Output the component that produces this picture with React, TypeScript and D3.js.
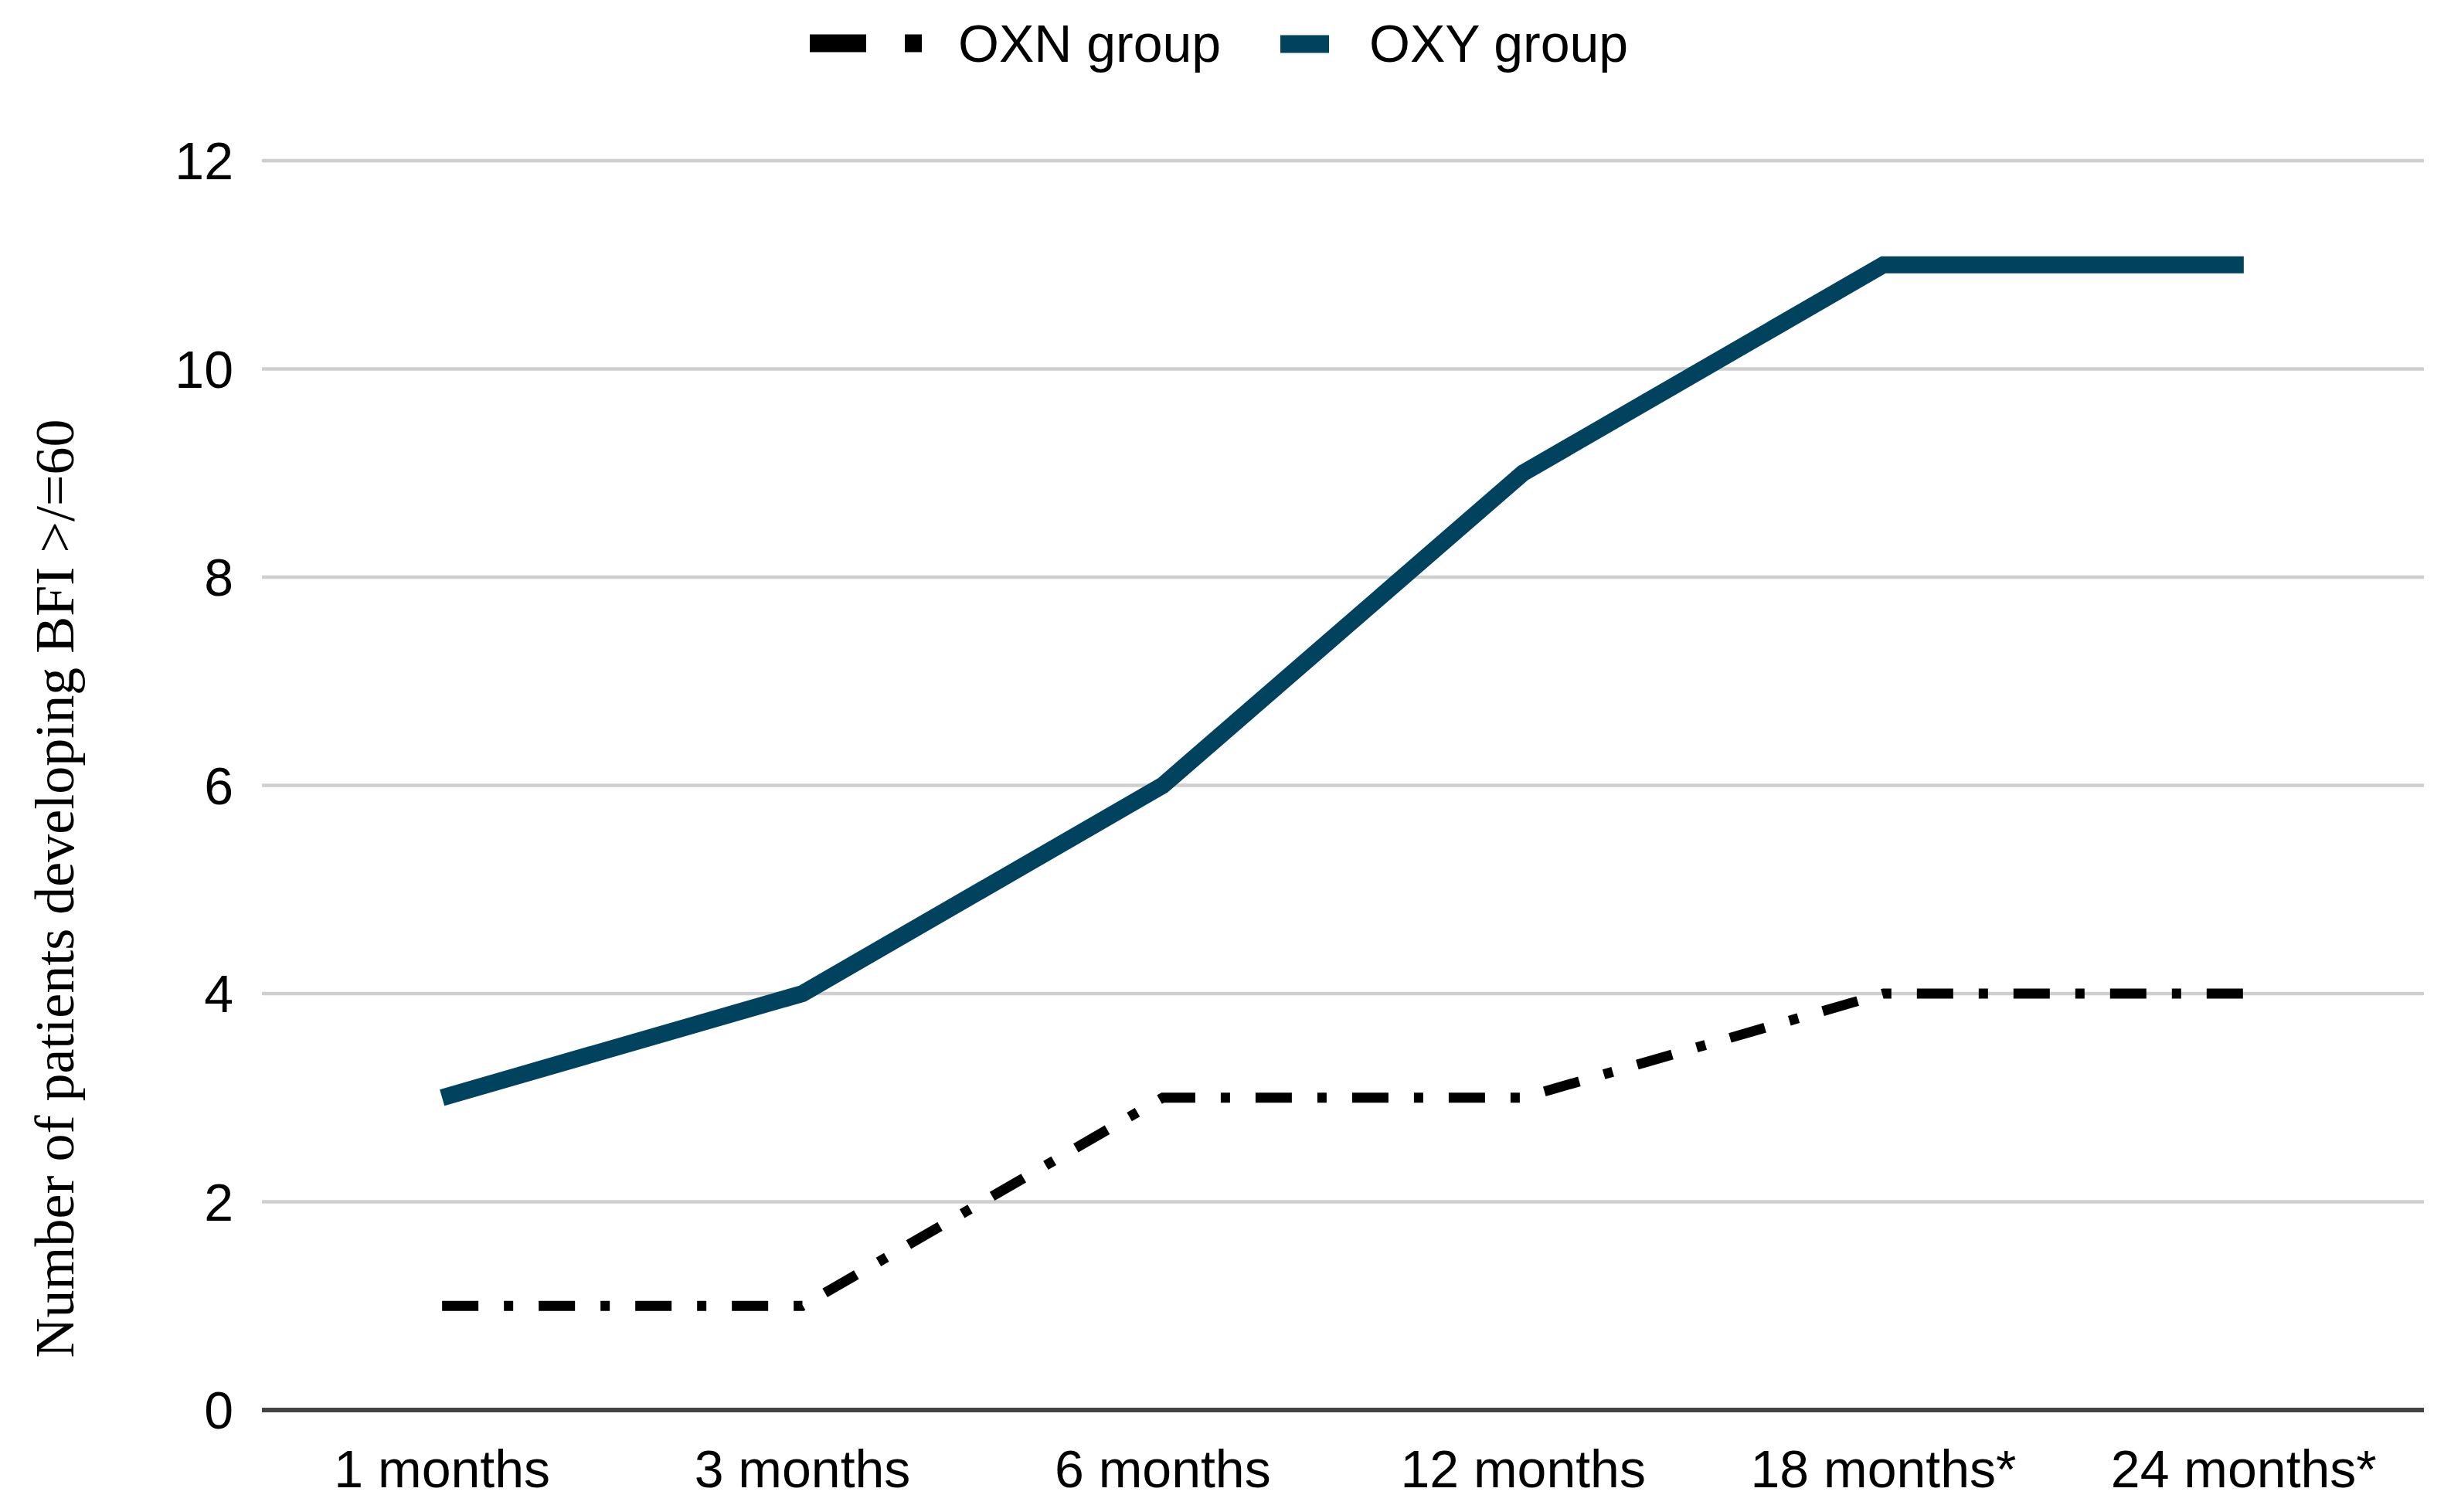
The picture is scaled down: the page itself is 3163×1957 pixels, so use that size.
import React from "react";
import * as d3 from "d3";

const categories = ["1 months", "3 months", "6 months", "12 months", "18 months*", "24 months*"];
const oxnValues = [1, 1, 3, 3, 4, 4];
const oxyValues = [3, 4, 6, 9, 11, 11];
const yTicks = [0, 2, 4, 6, 8, 10, 12];
const seriesNames = ["OXN group", "OXY group"];

const W = 3163;
const H = 1957;
const LEFT = 339;
const RIGHT = 3137;
const BOTTOM = 1825;
const TOP = 208;
const OXY_COLOR = "#01425f";
const SANS = "'Liberation Sans', Arial, sans-serif";
const SERIF = "'Liberation Serif', 'Times New Roman', serif";

export default function App() {
  const x = d3.scaleBand<string>().domain(categories).range([LEFT, RIGHT]).padding(0);
  const cx = (c: string) => (x(c) as number) + x.bandwidth() / 2;
  const y = d3.scaleLinear().domain([0, 12]).range([BOTTOM, TOP]);

  const line = d3
    .line<number>()
    .x((_, i) => cx(categories[i]))
    .y((d) => y(d));

  return (
    <svg
      width={W}
      height={H}
      viewBox={`0 0 ${W} ${H}`}
      style={{ position: "absolute", left: 0, top: 0, background: "#fff" }}
    >
      <rect x={0} y={0} width={W} height={H} fill="#fff" />
      {/* grid lines */}
      {yTicks
        .filter((t) => t !== 0)
        .map((t) => (
          <line key={t} x1={LEFT} x2={RIGHT} y1={y(t)} y2={y(t)} stroke="#cfcfcf" strokeWidth={4.5} />
        ))}
      {/* x axis */}
      <line x1={LEFT} x2={RIGHT} y1={y(0)} y2={y(0)} stroke="#444" strokeWidth={6} />
      {/* y tick labels */}
      {yTicks.map((t) => (
        <text
          key={t}
          x={302}
          y={y(t)}
          dy="0.36em"
          textAnchor="end"
          fontFamily={SANS}
          fontSize={68}
          fill="#000"
        >
          {t}
        </text>
      ))}
      {/* x labels */}
      {categories.map((c) => (
        <text key={c} x={cx(c)} y={1925} textAnchor="middle" fontFamily={SANS} fontSize={68} fill="#000">
          {c}
        </text>
      ))}
      {/* y axis title */}
      <text
        transform={`translate(95, 1150) rotate(-90)`}
        textAnchor="middle"
        fontFamily={SERIF}
        fontSize={72}
        fill="#000"
      >
        Number of patients developing BFI &gt;/=60
      </text>
      {/* series */}
      <path
        d={line(oxnValues) || ""}
        fill="none"
        stroke="#000"
        strokeWidth={13}
        strokeDasharray="47 33 12 33"
        strokeLinecap="butt"
      />
      <path d={line(oxyValues) || ""} fill="none" stroke={OXY_COLOR} strokeWidth={22} strokeLinejoin="miter" />
      {/* legend */}
      <line x1={1048} x2={1121} y1={56} y2={56} stroke="#000" strokeWidth={23} />
      <line x1={1171} x2={1193} y1={56} y2={56} stroke="#000" strokeWidth={23} />
      <text x={1240} y={80} fontFamily={SANS} fontSize={68} fill="#000">
        {seriesNames[0]}
      </text>
      <line x1={1657} x2={1720} y1={57} y2={57} stroke={OXY_COLOR} strokeWidth={23} />
      <text x={1772} y={80} fontFamily={SANS} fontSize={68} fill="#000">
        {seriesNames[1]}
      </text>
    </svg>
  );
}
